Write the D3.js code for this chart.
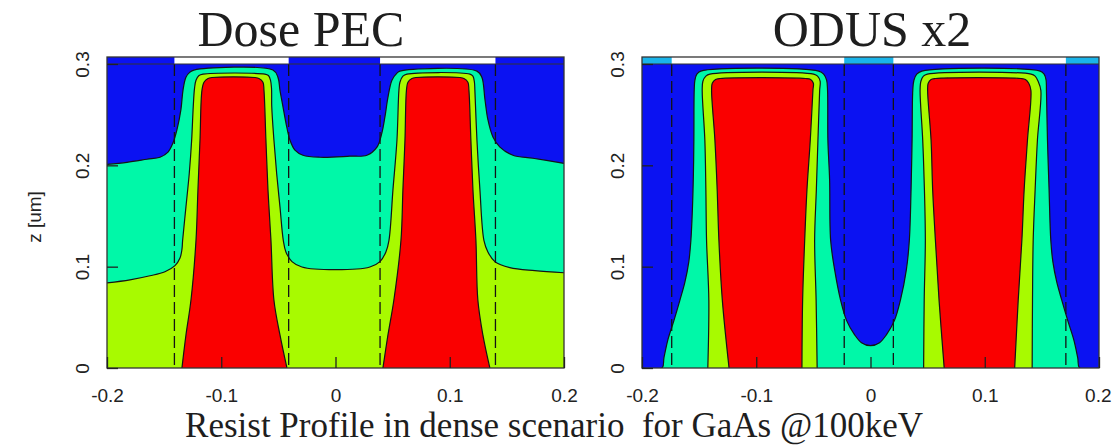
<!DOCTYPE html>
<html>
<head>
<meta charset="utf-8">
<script src="https://cdn.jsdelivr.net/npm/d3@7"></script>
<style>
  html, body { margin: 0; padding: 0; background: #ffffff; }
  svg { display: block; }
  .serif { font-family: "Liberation Serif", "Times New Roman", serif; fill: #1e1e1e; }
  .sans  { font-family: "Liberation Sans", Arial, sans-serif; fill: #222; }
</style>
</head>
<body>
<svg id="chart" width="1112" height="447"></svg>
<script>
// ---- axis ticks and labels ----
const xTicks = [-0.2, -0.1, 0, 0.1, 0.2];
const zTicks = [0, 0.1, 0.2, 0.3];
const panelTitles = ["Dose PEC", "ODUS x2"];
const zLabel = "z [um]";
const caption = "Resist Profile in dense scenario  for GaAs @100keV";

// ---- Dose PEC: exposed line openings [x0, x1] in um ----
const pecOpenings = [[-0.141, -0.041], [0.039, 0.140]];

// upper edge of the second dose band (blue -> aquamarine), [x, z]
const pecBlueEdge = [
  [-0.2, 0.201], [-0.1825, 0.203], [-0.165, 0.206], [-0.1536, 0.208], [-0.1466, 0.213],
  [-0.1423, 0.222], [-0.1388, 0.235], [-0.1353, 0.255], [-0.1335, 0.274], [-0.1309, 0.287],
  [-0.1274, 0.292], [-0.1239, 0.294], [-0.0548, 0.294], [-0.0504, 0.287], [-0.0486, 0.274],
  [-0.046, 0.258], [-0.0434, 0.242], [-0.0399, 0.225], [-0.0355, 0.215], [-0.0285, 0.210],
  [-0.0136, 0.208], [0.0126, 0.209], [0.0275, 0.210], [0.0363, 0.218], [0.0406, 0.232],
  [0.0433, 0.248], [0.0459, 0.267], [0.0494, 0.284], [0.0538, 0.291], [0.0564, 0.293],
  [0.1238, 0.293], [0.1281, 0.287], [0.1308, 0.265], [0.1334, 0.245], [0.1378, 0.228],
  [0.1439, 0.218], [0.1553, 0.210], [0.1728, 0.207], [0.2, 0.202]
];

// upper edge of the third dose band (aquamarine -> yellow-green)
const pecGreenEdge = [
  [-0.2, 0.084], [-0.1799, 0.087], [-0.1624, 0.091], [-0.1493, 0.095], [-0.1405, 0.101],
  [-0.1361, 0.1085], [-0.1344, 0.117], [-0.1338, 0.126], [-0.1309, 0.159], [-0.1280, 0.192],
  [-0.1259, 0.225], [-0.1245, 0.258], [-0.1234, 0.276], [-0.1221, 0.284], [-0.1195, 0.2886],
  [-0.1160, 0.290], [-0.0618, 0.290], [-0.0587, 0.2886], [-0.0569, 0.284], [-0.0560, 0.276],
  [-0.0558, 0.258], [-0.0539, 0.225], [-0.0515, 0.192], [-0.0486, 0.159], [-0.0457, 0.126],
  [-0.0434, 0.1145], [-0.0381, 0.105], [-0.0294, 0.0997], [-0.0005, 0.097], [0.0301, 0.0997],
  [0.0389, 0.105], [0.0441, 0.1145], [0.0468, 0.126], [0.0503, 0.176], [0.0538, 0.225],
  [0.0555, 0.274], [0.0564, 0.282], [0.0590, 0.288], [0.0625, 0.290], [0.1177, 0.290],
  [0.1203, 0.288], [0.1216, 0.282], [0.1220, 0.274], [0.1238, 0.225], [0.1264, 0.176],
  [0.1299, 0.126], [0.1334, 0.1145], [0.1395, 0.105], [0.1526, 0.099], [0.1745, 0.096],
  [0.2, 0.094]
];

// fully developed resist (red) cross sections
const pecRedLeft = [
  [-0.1344, 0], [-0.1309, 0.0326], [-0.1265, 0.0671], [-0.1221, 0.126], [-0.1204, 0.176],
  [-0.1186, 0.225], [-0.1169, 0.274], [-0.1151, 0.282], [-0.1116, 0.2857], [-0.1081, 0.2867],
  [-0.0705, 0.2867], [-0.0670, 0.2857], [-0.0635, 0.282], [-0.0626, 0.274], [-0.0609, 0.225],
  [-0.0591, 0.176], [-0.0565, 0.126], [-0.0539, 0.0671], [-0.0486, 0.0326], [-0.0425, 0]
];
const pecRedRight = [
  [0.0415, 0], [0.0459, 0.0326], [0.0511, 0.0671], [0.0573, 0.126], [0.0590, 0.176],
  [0.0608, 0.225], [0.0621, 0.274], [0.0634, 0.282], [0.0669, 0.2857], [0.0704, 0.2867],
  [0.1089, 0.2867], [0.1124, 0.2857], [0.1159, 0.282], [0.1168, 0.274], [0.1185, 0.225],
  [0.1203, 0.176], [0.1229, 0.126], [0.1246, 0.0671], [0.1290, 0.0326], [0.1351, 0]
];

// ---- ODUS x2 ----
const odusOpenings = [[-0.174, -0.023], [0.020, 0.171]];

const odusBlueEdge = [
  [-0.2, 0], [-0.1825, 0], [-0.1808, 0.010], [-0.1773, 0.028], [-0.1720, 0.047],
  [-0.1668, 0.067], [-0.1624, 0.085], [-0.1590, 0.105], [-0.1572, 0.126], [-0.1559, 0.156],
  [-0.1550, 0.192], [-0.1546, 0.225], [-0.1543, 0.274], [-0.1537, 0.284], [-0.1520, 0.290],
  [-0.1485, 0.293], [-0.0454, 0.293], [-0.0410, 0.290], [-0.0384, 0.284], [-0.0376, 0.274],
  [-0.0373, 0.225], [-0.0358, 0.186], [-0.0349, 0.126], [-0.0314, 0.097], [-0.0262, 0.067],
  [-0.0210, 0.047], [-0.0140, 0.033], [-0.0079, 0.025], [0, 0.022], [0.0079, 0.025],
  [0.0140, 0.033], [0.0210, 0.047], [0.0262, 0.067], [0.0314, 0.097], [0.0340, 0.126],
  [0.0355, 0.176], [0.0364, 0.225], [0.0370, 0.274], [0.0380, 0.284], [0.0405, 0.290],
  [0.0450, 0.293], [0.1485, 0.293], [0.1520, 0.290], [0.1537, 0.284], [0.1540, 0.274],
  [0.1549, 0.225], [0.1563, 0.176], [0.1578, 0.126], [0.1596, 0.105], [0.1630, 0.085],
  [0.1674, 0.067], [0.1726, 0.047], [0.1779, 0.028], [0.1814, 0.010], [0.1831, 0], [0.2, 0]
];

const odusYellowLeft = [
  [-0.1424, 0], [-0.1415, 0.067], [-0.1435, 0.126], [-0.1441, 0.176], [-0.1450, 0.225],
  [-0.1473, 0.274], [-0.1467, 0.283], [-0.1441, 0.288], [-0.1406, 0.290], [-0.0498, 0.290],
  [-0.0463, 0.288], [-0.0441, 0.283], [-0.0445, 0.274], [-0.0460, 0.225], [-0.0474, 0.176],
  [-0.0489, 0.126], [-0.0476, 0.067], [-0.0467, 0]
];
const odusYellowRight = [
  [0.0465, 0], [0.0470, 0.067], [0.0480, 0.126], [0.0472, 0.176], [0.0457, 0.225],
  [0.0434, 0.274], [0.0441, 0.283], [0.0463, 0.288], [0.0498, 0.290], [0.1406, 0.290],
  [0.1441, 0.288], [0.1467, 0.283], [0.1491, 0.274], [0.1461, 0.225], [0.1441, 0.176],
  [0.1424, 0.126], [0.1418, 0.067], [0.1415, 0]
];

const odusRedLeft = [
  [-0.1238, 0], [-0.1297, 0.067], [-0.1327, 0.126], [-0.1342, 0.176], [-0.1362, 0.225],
  [-0.1391, 0.274], [-0.1385, 0.281], [-0.1356, 0.2847], [-0.1317, 0.2857], [-0.0568, 0.2857],
  [-0.0524, 0.2847], [-0.0500, 0.281], [-0.0504, 0.274], [-0.0527, 0.225], [-0.0556, 0.176],
  [-0.0576, 0.126], [-0.0594, 0.067], [-0.0600, 0]
];
const odusRedRight = [
  [0.0645, 0], [0.0600, 0.067], [0.0568, 0.126], [0.0544, 0.176], [0.0530, 0.225],
  [0.0500, 0.274], [0.0505, 0.281], [0.0530, 0.2847], [0.0568, 0.2857], [0.1317, 0.2857],
  [0.1356, 0.2847], [0.1385, 0.281], [0.1404, 0.274], [0.1374, 0.225], [0.1345, 0.176],
  [0.1325, 0.126], [0.1293, 0.067], [0.1262, 0]
];

// ---- colours ----
const C = {
  blue: "#0b12f2",
  aqua: "#00f8a8",
  lime: "#a8fa00",
  red: "#fa0000",
  cyan: "#1ab4ea",
  ink: "#141414"
};

// ---- layout ----
const W = 1112;
const barTop = 57, plotTop = 64, plotBottom = 368;

const panels = [
  {
    title: panelTitles[0], left: 107, right: 564, titleX: 301,
    barColor: C.blue, openings: pecOpenings, showZLabel: true,
    layers: [
      { edge: pecBlueEdge, color: C.aqua },
      { edge: pecGreenEdge, color: C.lime },
      { edge: pecRedLeft, color: C.red },
      { edge: pecRedRight, color: C.red }
    ]
  },
  {
    title: panelTitles[1], left: 642, right: 1099, titleX: 872,
    barColor: C.cyan, openings: odusOpenings, showZLabel: false,
    layers: [
      { edge: odusBlueEdge, color: C.aqua },
      { edge: odusYellowLeft, color: C.lime },
      { edge: odusYellowRight, color: C.lime },
      { edge: odusRedLeft, color: C.red },
      { edge: odusRedRight, color: C.red }
    ]
  }
];

const svg = d3.select("#chart");
const defs = svg.append("defs");

panels.forEach((p, i) => {
  const x = d3.scaleLinear().domain([-0.2, 0.2]).range([p.left, p.right]);
  const y = d3.scaleLinear().domain([0, 0.3]).range([plotBottom, plotTop]);
  const curve = d3.curveCatmullRom.alpha(0.5);

  const area = d3.area()
    .x(d => x(d[0])).y0(y(0)).y1(d => y(d[1])).curve(curve);
  const line = d3.line()
    .x(d => x(d[0])).y(d => y(d[1])).curve(curve);

  defs.append("clipPath").attr("id", "plotclip" + i)
    .append("rect")
    .attr("x", p.left).attr("y", plotTop)
    .attr("width", p.right - p.left).attr("height", plotBottom - plotTop);

  const g = svg.append("g");
  const plot = g.append("g").attr("clip-path", `url(#plotclip${i})`);

  // lowest dose band fills the whole resist
  plot.append("rect")
    .attr("x", p.left).attr("y", plotTop)
    .attr("width", p.right - p.left).attr("height", plotBottom - plotTop)
    .attr("fill", C.blue);

  // filled contour bands with their outlines
  p.layers.forEach(l => {
    plot.append("path").attr("d", area(l.edge)).attr("fill", l.color);
    plot.append("path").attr("d", line(l.edge))
      .attr("fill", "none").attr("stroke", C.ink)
      .attr("stroke-width", 1.2).attr("stroke-linejoin", "round");
  });

  // mask edges
  p.openings.forEach(o => {
    o.forEach(e => {
      plot.append("line")
        .attr("x1", x(e)).attr("x2", x(e))
        .attr("y1", plotTop).attr("y2", plotBottom)
        .attr("stroke", C.ink).attr("stroke-width", 1.3)
        .attr("stroke-dasharray", "12,5");
    });
  });

  // exposure pattern strip on top of the resist
  g.append("rect")
    .attr("x", p.left).attr("y", barTop)
    .attr("width", p.right - p.left).attr("height", plotTop - barTop)
    .attr("fill", p.barColor);
  p.openings.forEach(o => {
    g.append("rect")
      .attr("x", x(o[0])).attr("y", barTop)
      .attr("width", x(o[1]) - x(o[0])).attr("height", plotTop - barTop)
      .attr("fill", "#ffffff");
  });
  g.append("line")
    .attr("x1", p.left).attr("x2", p.right)
    .attr("y1", plotTop).attr("y2", plotTop)
    .attr("stroke", "#333").attr("stroke-width", 1.2);

  // frame
  g.append("rect")
    .attr("x", p.left).attr("y", barTop)
    .attr("width", p.right - p.left).attr("height", plotBottom - barTop)
    .attr("fill", "none").attr("stroke", "#333").attr("stroke-width", 1.3);

  // axes with inward ticks
  const fmt = d => String(d);
  const xAxis = g.append("g")
    .attr("transform", `translate(0,${plotBottom})`)
    .call(d3.axisBottom(x).tickValues(xTicks).tickSize(-11).tickFormat(fmt));
  xAxis.select(".domain").remove();
  xAxis.selectAll(".tick line").attr("stroke", "#222").attr("stroke-width", 1.3);
  xAxis.selectAll(".tick text")
    .attr("class", "sans").attr("y", 34).attr("dy", null)
    .attr("font-size", 19).attr("fill", "#222");
  // keep a label that would run past the right border inside the page
  xAxis.selectAll(".tick text")
    .filter(d => x(d) + 16 > W)
    .attr("text-anchor", "end")
    .attr("x", d => W - 1 - x(d));

  const yAxis = g.append("g")
    .attr("transform", `translate(${p.left},0)`)
    .call(d3.axisLeft(y).tickValues(zTicks).tickSize(-11).tickFormat(fmt));
  yAxis.select(".domain").remove();
  yAxis.selectAll(".tick line").attr("stroke", "#222").attr("stroke-width", 1.3);
  yAxis.selectAll(".tick text")
    .attr("class", "sans").attr("x", null).attr("dy", null)
    .attr("text-anchor", "middle").attr("font-size", 19).attr("fill", "#222")
    .attr("transform", "translate(-18.5,0) rotate(-90)");

  // title
  svg.append("text").attr("class", "serif")
    .attr("x", p.titleX).attr("y", 46)
    .attr("text-anchor", "middle").attr("font-size", 50)
    .text(p.title);

  if (p.showZLabel) {
    svg.append("text").attr("class", "sans")
      .attr("transform", `translate(41,217) rotate(-90)`)
      .attr("text-anchor", "middle").attr("font-size", 19)
      .text(zLabel);
  }
});

svg.append("text").attr("class", "serif")
  .attr("x", 554).attr("y", 437)
  .attr("text-anchor", "middle").attr("font-size", 35)
  .style("white-space", "pre")
  .text(caption);
</script>
</body>
</html>
